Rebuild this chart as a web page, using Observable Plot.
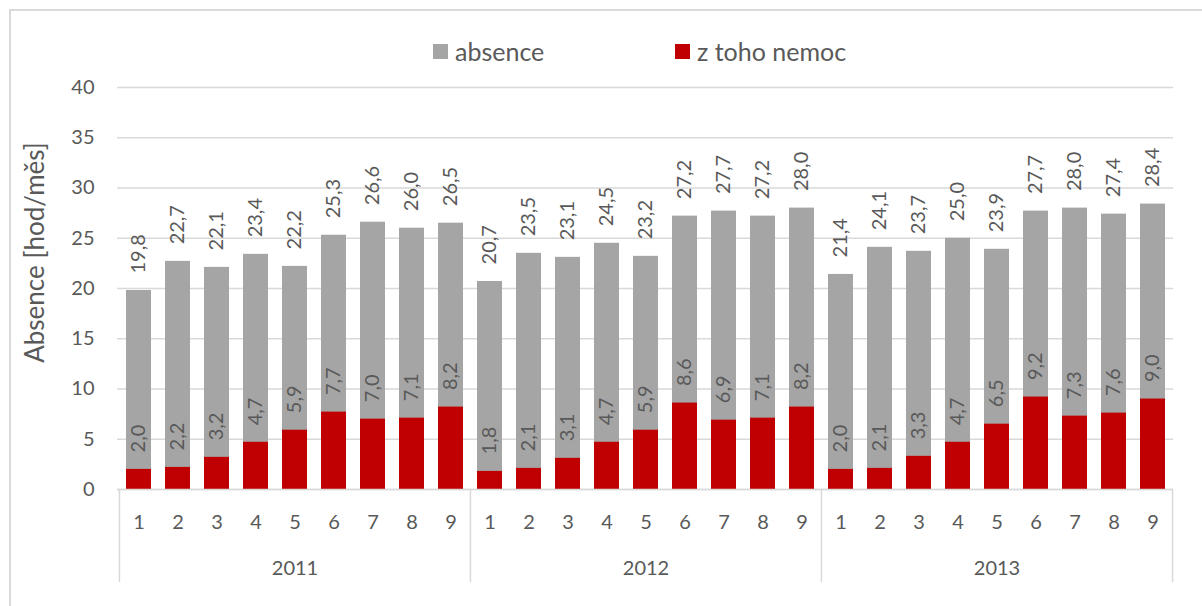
<!DOCTYPE html>
<html><head><meta charset="utf-8">
<script src="https://cdn.jsdelivr.net/npm/d3@7"></script>
<script src="https://cdn.jsdelivr.net/npm/@observablehq/plot@0.6"></script>
<style>
html,body{margin:0;padding:0;background:#fff;}
#wrap{position:relative;width:1202px;height:606px;overflow:hidden;font-family:Lato,sans-serif;background:#fff;}
#chart{position:absolute;left:0;top:0;}
#frame{position:absolute;left:9px;top:9px;width:1300px;height:700px;border:2px solid #d9d9d9;box-sizing:border-box;pointer-events:none;}
.leg{position:absolute;top:36px;height:30px;display:flex;align-items:center;font-size:25px;color:#595959;white-space:nowrap;}
.sw{width:15px;height:15px;margin-right:7px;}
</style>
</head><body>
<div id="wrap">
  <div id="chart"></div>
  <div class="leg" style="left:433px"><div class="sw" style="background:#a5a5a5"></div><span>absence</span></div>
  <div class="leg" style="left:675px"><div class="sw" style="background:#c00000"></div><span>z toho nemoc</span></div>
  <div id="frame"></div>
</div>
<script>
const years = ["2011", "2012", "2013"];
const months = [1, 2, 3, 4, 5, 6, 7, 8, 9];
const absence2011 = [19.8, 22.7, 22.1, 23.4, 22.2, 25.3, 26.6, 26.0, 26.5];
const absence2012 = [20.7, 23.5, 23.1, 24.5, 23.2, 27.2, 27.7, 27.2, 28.0];
const absence2013 = [21.4, 24.1, 23.7, 25.0, 23.9, 27.7, 28.0, 27.4, 28.4];
const nemoc2011 = [2.0, 2.2, 3.2, 4.7, 5.9, 7.7, 7.0, 7.1, 8.2];
const nemoc2012 = [1.8, 2.1, 3.1, 4.7, 5.9, 8.6, 6.9, 7.1, 8.2];
const nemoc2013 = [2.0, 2.1, 3.3, 4.7, 6.5, 9.2, 7.3, 7.6, 9.0];
const yTicks = [0, 5, 10, 15, 20, 25, 30, 35, 40];
const yTitle = "Absence [hod/měs]";

const absenceByYear = {"2011": absence2011, "2012": absence2012, "2013": absence2013};
const nemocByYear = {"2011": nemoc2011, "2012": nemoc2012, "2013": nemoc2013};
const rows = years.flatMap(y => months.map((m, i) => ({
  key: `${y}-${m}`, year: y, month: m, absence: absenceByYear[y][i], nemoc: nemocByYear[y][i]
})));
const keys = rows.map(d => d.key);

const W = 1202, H = 606, mL = 117, mR = 29, mT = 87, mB = 117;
const step = (W - mL - mR) / keys.length;
const fmt = v => v.toFixed(1).replace(".", ",");
const grey = "#595959";
const line = "#d9d9d9";

const boundaries = years.map(y => ({key: `${y}-1`, side: -1})).concat([{key: keys[keys.length - 1], side: 1}]);

const chart = Plot.plot({
  width: W, height: H,
  marginLeft: mL, marginRight: mR, marginTop: mT, marginBottom: mB,
  style: {fontFamily: "Lato, sans-serif", fontSize: "20px", color: grey, background: "transparent"},
  x: {type: "band", domain: keys, paddingInner: 0.37, paddingOuter: 0.185, axis: null},
  y: {domain: [0, 40]},
  marks: [
    Plot.gridY(yTicks, {stroke: line, strokeOpacity: 1, strokeWidth: 1.5}),
    Plot.axisY(yTicks, {tickSize: 0, tickPadding: 23, label: null, fill: grey, fontSize: 20}),
    Plot.barY(rows, {x: "key", y: "absence", fill: "#a5a5a5"}),
    Plot.barY(rows, {x: "key", y: "nemoc", fill: "#c00000"}),
    Plot.ruleY([0], {stroke: line, strokeWidth: 1.5}),
    Plot.ruleX(boundaries.filter(d => d.side < 0), {x: "key", y1: 0, y2: 0, insetBottom: -93, dx: -step / 2, stroke: line, strokeWidth: 1.5}),
    Plot.ruleX(boundaries.filter(d => d.side > 0), {x: "key", y1: 0, y2: 0, insetBottom: -93, dx: step / 2, stroke: line, strokeWidth: 1.5}),
    Plot.text(rows, {x: "key", y: "absence", text: d => fmt(d.absence), rotate: -90, textAnchor: "start", dy: -17, fill: grey, fontSize: 20}),
    Plot.text(rows, {x: "key", y: "nemoc", text: d => fmt(d.nemoc), rotate: -90, textAnchor: "start", dy: -17, fill: grey, fontSize: 20}),
    Plot.text(rows, {x: "key", y: 0, text: d => String(d.month), dy: 33, fill: grey, fontSize: 20}),
    Plot.text(years, {x: d => `${d}-5`, y: 0, text: d => d, dy: 79, fill: grey, fontSize: 20}),
    Plot.text([yTitle], {frameAnchor: "left", textAnchor: "middle", dx: -82, dy: -36, rotate: -90, text: d => d, fill: grey, fontSize: 26})
  ]
});
document.getElementById("chart").appendChild(chart);
</script>
</body></html>
